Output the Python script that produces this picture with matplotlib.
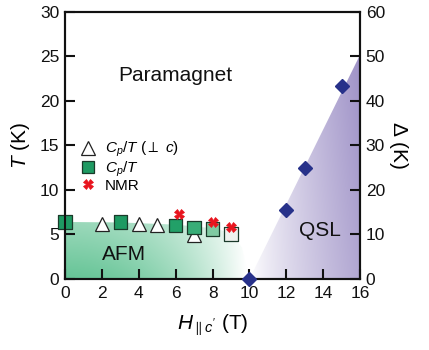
import numpy as np
import matplotlib
matplotlib.use("Agg")
import matplotlib.pyplot as plt
from matplotlib.patches import Polygon
from matplotlib.lines import Line2D

plt.rcParams['font.family'] = ['Liberation Sans', 'DejaVu Sans']
plt.rcParams['mathtext.fontset'] = 'custom'
plt.rcParams['mathtext.it'] = 'Liberation Sans:italic'
plt.rcParams['mathtext.rm'] = 'Liberation Sans'

# Data
cp_perp_H = [2, 4, 5, 7]
cp_perp_T = [6.2, 6.2, 6.05, 4.95]
cp_H = [0, 3, 6, 7, 8, 9]
cp_T = [6.4, 6.4, 6.0, 5.8, 5.6, 5.05]
nmr_H = [6.2, 8.0, 9.0]
nmr_T = [7.25, 6.45, 5.8]
gap_H = [10, 12, 13, 15]
gap_D = [0, 15.5, 25.0, 43.4]

# AFM boundary and QSL boundary
afm_H = [0, 3, 6, 8, 9, 9.6, 10]
afm_T = [6.4, 6.35, 6.1, 5.7, 5.2, 3.5, 0]
qsl_H = [10, 16, 16]
qsl_T = [0, 25.2, 0]

fig = plt.figure(figsize=(4.29, 3.5), dpi=100)
ax = fig.add_axes([0.1515, 0.203, 0.688, 0.763])
ax.set_xlim(0, 16)
ax.set_ylim(0, 30)

xx = np.linspace(0, 16, 400)
yy = np.linspace(0, 30, 300)
X, Y = np.meshgrid(xx, yy)

# Green gradient
wg = np.clip(1 - (X / 9.8) ** 2.0, 0, 1) * (1.0 - 0.35 * np.clip(Y / 6.4, 0, 1))
green = np.array([0.40, 0.77, 0.59])
img = np.ones(X.shape + (3,))
img = img * (1 - wg[..., None]) + green * wg[..., None]
im = ax.imshow(img, extent=[0, 16, 0, 30], origin='lower', aspect='auto', zorder=0)
p = Polygon(list(zip(afm_H + [0], afm_T + [0])), closed=True, transform=ax.transData)
im.set_clip_path(p)

# Purple gradient
wp = np.clip((X - 10.0) / 6.0, 0, 1) ** 0.8 * (0.8 + 0.2 * Y / 25)
purple = np.array([0.62, 0.57, 0.78])
img2 = np.ones(X.shape + (3,))
img2 = img2 * (1 - wp[..., None]) + purple * wp[..., None]
im2 = ax.imshow(img2, extent=[0, 16, 0, 30], origin='lower', aspect='auto', zorder=0)
p2 = Polygon(list(zip(qsl_H, qsl_T)), closed=True, transform=ax.transData)
im2.set_clip_path(p2)

ax.set_xlim(0, 16)
ax.set_ylim(0, 30)

# Markers
ax.plot(cp_perp_H, cp_perp_T, linestyle='none', marker='^', ms=9.5, mfc='white',
        mec='#222222', mew=0.9, zorder=3)
sq_fc = ['#1e9a62', '#1e9a62', '#22a068', '#38ad77', '#7fcaa2', '#eef2ee']
ax.scatter(cp_H, cp_T, marker='s', s=95, c=sq_fc, edgecolors='#1a3a2a', linewidths=0.9,
           zorder=4, clip_on=False)
ax.plot(nmr_H, nmr_T, linestyle='none', marker='X', ms=7, mfc='#e8141e', mec='#e8141e',
        mew=0.5, zorder=5)

ax2 = ax.twinx()
ax2.set_ylim(0, 60)
ax2.plot(gap_H, gap_D, linestyle='none', marker='D', ms=7.5, mfc='#27318a', mec='#27318a',
         zorder=5, clip_on=False)

# Axes styles
for a in (ax, ax2):
    for s in a.spines.values():
        s.set_linewidth(1.5)
        s.set_color('#111111')
    a.tick_params(direction='in', length=7, width=1.5, labelsize=12.5, colors='#111111', pad=4)

ax.set_xticks(np.arange(0, 17, 2))
ax.set_yticks(np.arange(0, 31, 5))
ax2.set_yticks(np.arange(0, 61, 10))
ax.tick_params(axis='x', pad=5)

ax.set_xlabel(r"$H_{\parallel c'}$ (T)", fontsize=15, labelpad=8)
ax.set_ylabel(r"$T$ (K)", fontsize=15, labelpad=6)
ax2.set_ylabel(r"$\Delta$ (K)", fontsize=15, rotation=270, labelpad=18)

ax.text(6.0, 22.9, "Paramagnet", fontsize=15, ha='center', va='center', color='#111111')
ax.text(3.2, 2.8, "AFM", fontsize=15, ha='center', va='center', color='#111111')
ax.text(13.8, 5.4, "QSL", fontsize=15, ha='center', va='center', color='#111111')

handles = [
    Line2D([], [], linestyle='none', marker='^', ms=9.5, mfc='white', mec='#222222', mew=0.9),
    Line2D([], [], linestyle='none', marker='s', ms=9, mfc='#1e9a62', mec='#1a3a2a', mew=0.9),
    Line2D([], [], linestyle='none', marker='X', ms=7, mfc='#e8141e', mec='#e8141e', mew=0.5),
]
labels = [r"$C_p/T$ ($\perp$ $c$)", r"$C_p/T$", "NMR"]
ax.legend(handles, labels, loc='upper left', bbox_to_anchor=(0.012, 0.56), frameon=False,
          fontsize=11, handletextpad=0.5, labelspacing=0.0, handlelength=1.2, borderpad=0.2)

fig.savefig("out.png", dpi=100)
